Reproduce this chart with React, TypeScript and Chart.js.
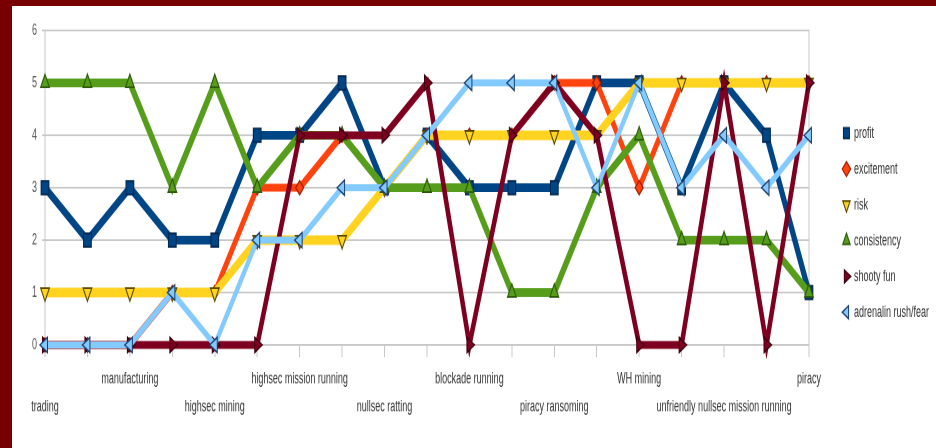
import React, { useEffect, useRef } from 'react';
import { Chart, registerables } from 'chart.js';

Chart.register(...registerables);

// ---- data ----
const categories = [
  'trading', '', 'manufacturing', '', 'highsec mining', '', 'highsec mission running', '',
  'nullsec ratting', '', 'blockade running', '', 'piracy ransoming', '', 'WH mining', '',
  'unfriendly nullsec mission running', '', 'piracy',
];
const yTickValues = [0, 1, 2, 3, 4, 5, 6];
const seriesNames = ['profit', 'excitement', 'risk', 'consistency', 'shooty fun', 'adrenalin rush/fear'];
const profit = [3, 2, 3, 2, 2, 4, 4, 5, 3, 4, 3, 3, 3, 5, 5, 3, 5, 4, 1];
const excitement = [0, 0, 0, 1, 1, 3, 3, 4, 3, 4, 4, 4, 5, 5, 3, 5, 5, 5, 5];
const risk = [1, 1, 1, 1, 1, 2, 2, 2, 3, 4, 4, 4, 4, 4, 5, 5, 5, 5, 5];
const consistency = [5, 5, 5, 3, 5, 3, 4, 4, 3, 3, 3, 1, 1, 3, 4, 2, 2, 2, 1];
const shootyFun = [0, 0, 0, 0, 0, 0, 4, 4, 4, 5, 0, 4, 5, 4, 0, 0, 5, 0, 5];
const adrenalin = [0, 0, 0, 1, 0, 2, 2, 3, 3, 4, 5, 5, 5, 3, 5, 3, 4, 3, 4];

// ---- styles ----
const seriesValues = [profit, excitement, risk, consistency, shootyFun, adrenalin];
const lineColors = ['#004586', '#ff420e', '#ffd320', '#579d1c', '#7e0021', '#83caff'];
const markerBorders = ['#00264d', '#a02000', '#5a4a00', '#2d5a0a', '#40000f', '#1f3f6e'];
const pointStyles = ['rect', 'rectRot', 'triangle', 'triangle', 'triangle', 'triangle'];
const pointRotations = [0, 0, 180, 0, 90, 270];
const pointRadii = [5.5, 4, 5, 5, 5, 5];
const lineWidths = [5, 4.5, 5.5, 5, 4.5, 4];

const FONT = "'Liberation Sans', Arial, sans-serif";
const CANVAS_W = 927;
const CANVAS_H = 253;
const STRETCH = 442 / CANVAS_H;
const GRID = '#c8c8c8';

export default function App() {
  const ref = useRef<HTMLCanvasElement>(null);

  useEffect(() => {
    document.body.style.margin = '0';
    const datasets = seriesNames.map((name, i) => ({
      label: name,
      data: seriesValues[i],
      borderColor: lineColors[i],
      backgroundColor: lineColors[i],
      borderWidth: lineWidths[i],
      pointStyle: pointStyles[i] as any,
      pointRotation: pointRotations[i],
      pointRadius: pointRadii[i],
      pointHoverRadius: pointRadii[i],
      pointBackgroundColor: lineColors[i],
      pointBorderColor: markerBorders[i],
      pointBorderWidth: 1,
      tension: 0,
      order: seriesNames.length - i,
      clip: false as any,
      yAxisID: 'y',
    }));

    const chart = new Chart(ref.current!, {
      type: 'line',
      data: { labels: categories, datasets },
      options: {
        animation: false,
        responsive: false,
        devicePixelRatio: 2,
        layout: { padding: { top: 14, bottom: 11, left: 0, right: 0 } },
        plugins: {
          tooltip: { enabled: false },
          legend: {
            position: 'right',
            align: 'start',
            title: { display: true, text: '', padding: 16, font: { family: FONT, size: 9 } },
            labels: {
              usePointStyle: true,
              boxWidth: 6,
              boxHeight: 6,
              padding: 11.5,
              color: '#333',
              font: { family: FONT, size: 9 },
              sort: (a: any, b: any) => a.datasetIndex - b.datasetIndex,
            },
          },
        },
        scales: {
          x: {
            type: 'category',
            offset: false,
            grid: { drawOnChartArea: false, drawTicks: true, tickLength: 7, color: GRID },
            border: { display: true, color: GRID },
            ticks: {
              autoSkip: false,
              maxRotation: 0,
              minRotation: 0,
              padding: 4.5,
              color: '#333',
              font: { family: FONT, size: 9, lineHeight: '16px' as any },
              callback: (_v: any, index: number) => {
                const label = categories[index];
                if (!label) return '';
                return (index / 2) % 2 === 0 ? ['', label] : label;
              },
            },
          },
          y: {
            type: 'linear',
            min: yTickValues[0],
            max: yTickValues[yTickValues.length - 1],
            afterBuildTicks: (s: any) => {
              s.ticks = yTickValues.map((v) => ({ value: v }));
            },
            afterFit: (s: any) => {
              s.width = 33;
            },
            grid: { color: GRID, tickLength: 3, lineWidth: 1 },
            border: { display: true, color: GRID },
            ticks: { padding: 5, color: '#555', font: { family: FONT, size: 9 } },
          },
          y2: {
            type: 'linear',
            position: 'right',
            min: yTickValues[0],
            max: yTickValues[yTickValues.length - 1],
            grid: { display: false },
            border: { display: true, color: GRID },
            ticks: { display: false },
            afterFit: (s: any) => {
              s.width = 23;
            },
          },
        },
      },
    } as any);
    return () => chart.destroy();
  }, []);

  return (
    <div
      style={{
        position: 'fixed',
        left: 0,
        top: 0,
        width: 936,
        height: 448,
        background: '#780000',
        overflow: 'hidden',
      }}
    >
      <div
        style={{
          position: 'absolute',
          left: 12,
          top: 6,
          width: 924,
          height: 442,
          background: '#ffffff',
          overflow: 'hidden',
        }}
      >
        <div
          style={{
            width: CANVAS_W,
            height: CANVAS_H,
            transform: `scaleY(${STRETCH})`,
            transformOrigin: '0 0',
          }}
        >
          <canvas ref={ref} width={CANVAS_W} height={CANVAS_H} style={{ display: 'block' }} />
        </div>
      </div>
    </div>
  );
}
